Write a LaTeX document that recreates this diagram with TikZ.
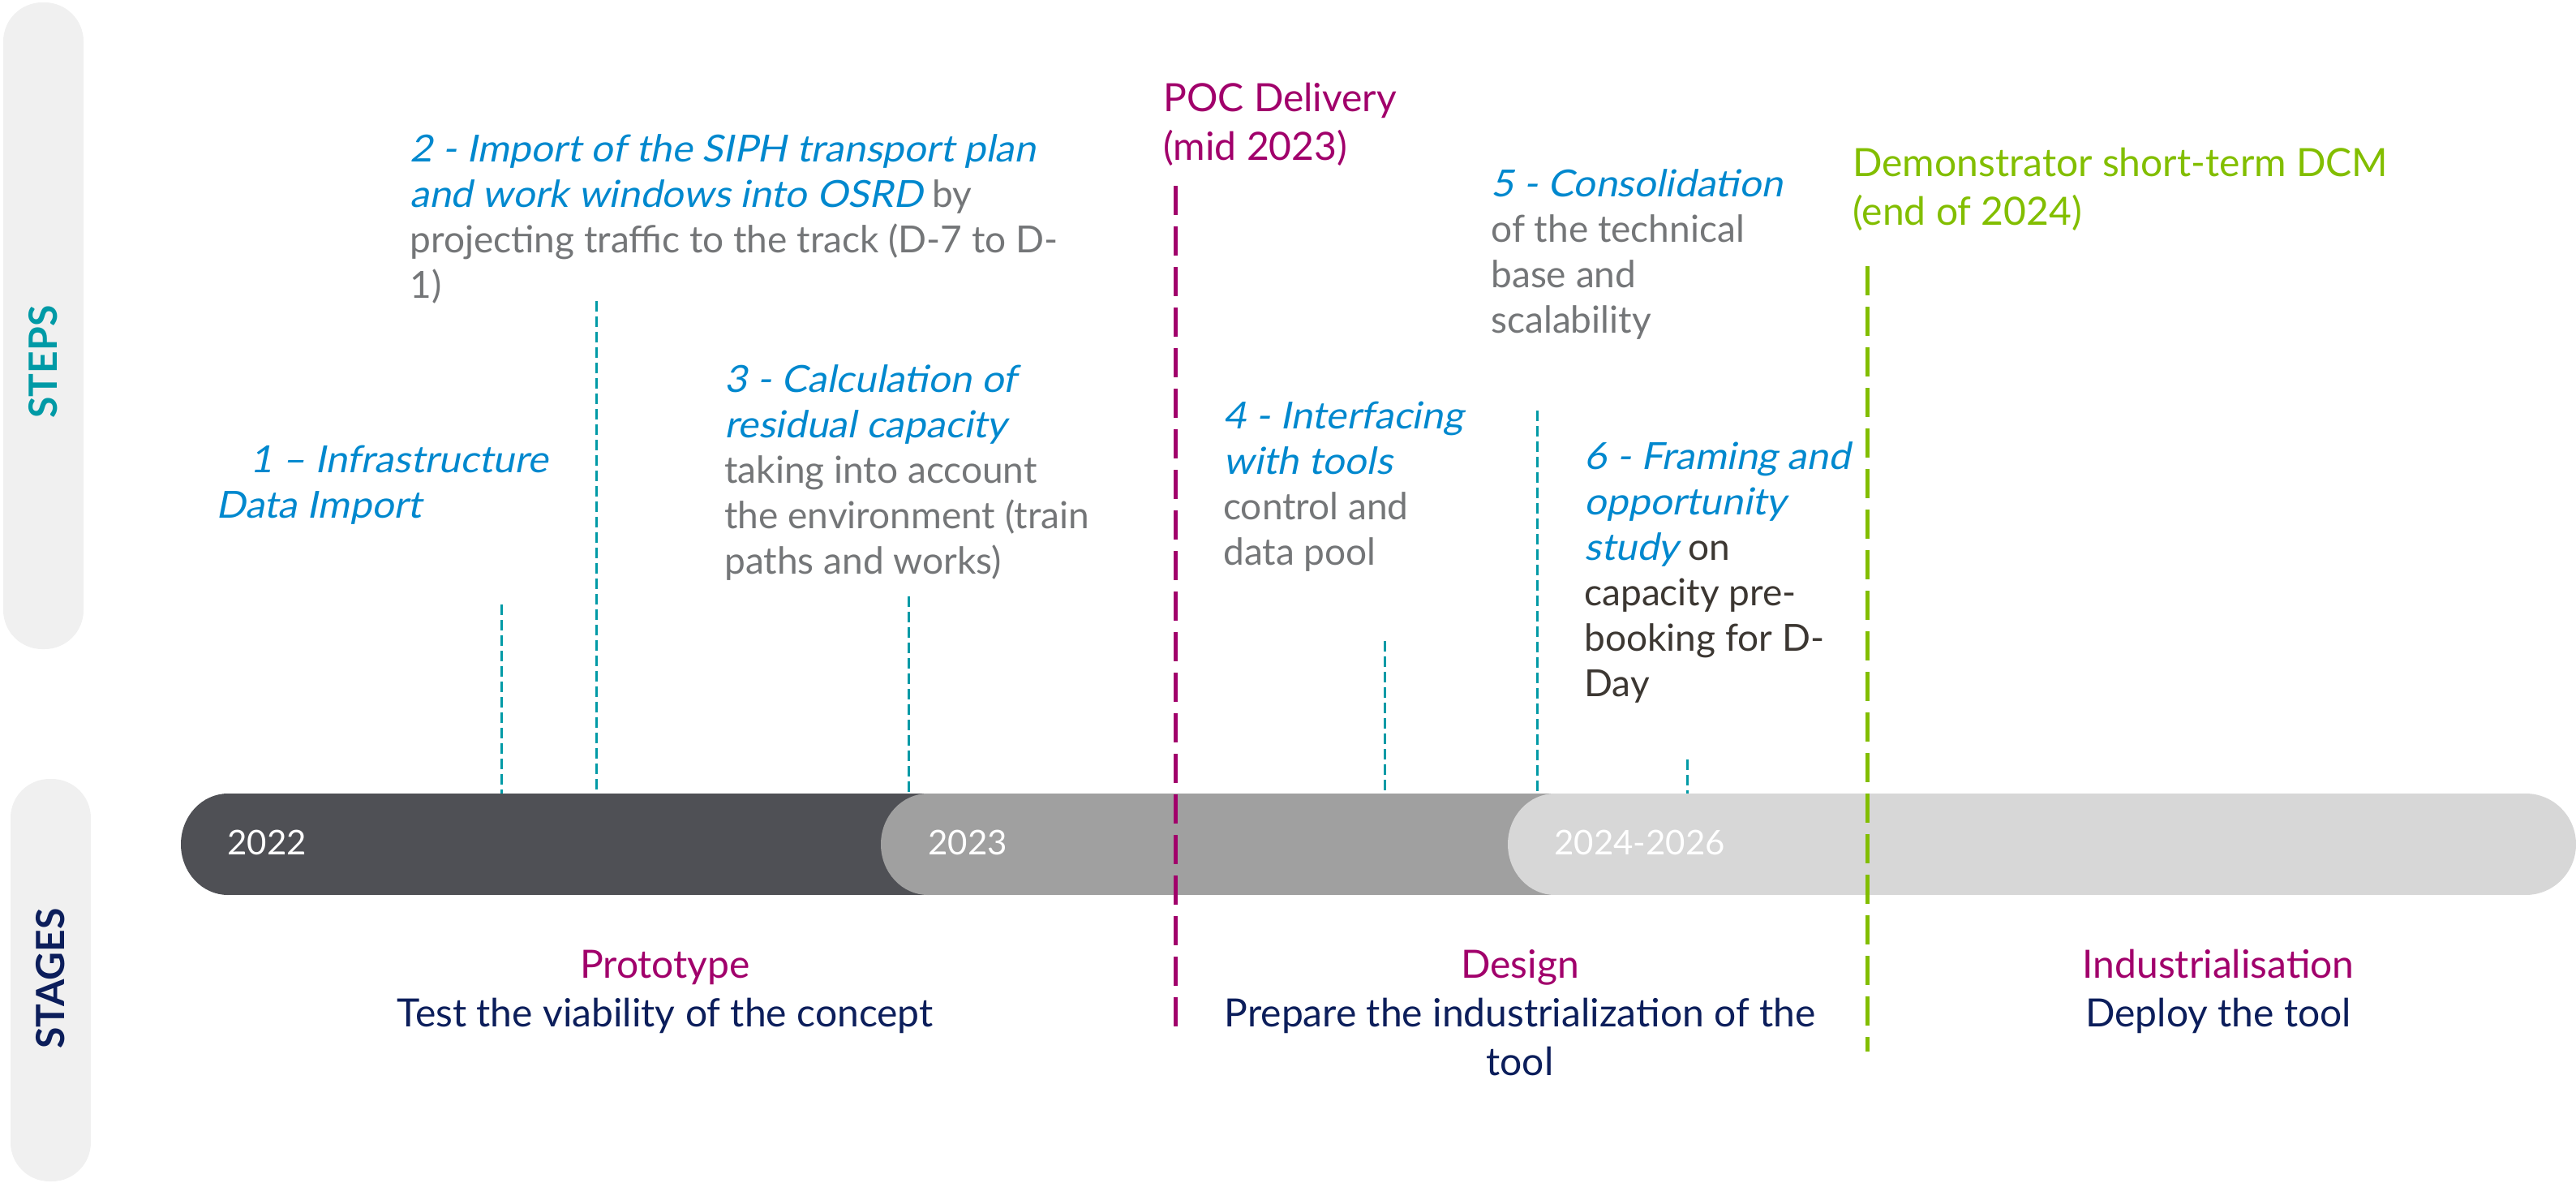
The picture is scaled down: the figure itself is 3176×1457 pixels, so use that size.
\documentclass[tikz,border=0pt]{standalone}
\usepackage{fontspec}
% oblique, slightly widened upright glyphs for the emphasised step titles
\setmainfont{Lato}[ItalicFont={Lato}, ItalicFeatures={FakeSlant=0.2, FakeStretch=1.04}]
\definecolor{stepblue}{HTML}{0088CE}
\definecolor{bodygray}{HTML}{747678}
\definecolor{bodydark}{HTML}{3C3732}
\definecolor{prunecol}{HTML}{A1006B}
\definecolor{limecol}{HTML}{82BE00}
\definecolor{navycol}{HTML}{0C1E5B}
\definecolor{markteal}{HTML}{009AA6}
\definecolor{pillgray}{HTML}{F0F0F0}
\definecolor{segdark}{HTML}{4F5055}
\definecolor{segmid}{HTML}{A0A0A0}
\definecolor{seglight}{HTML}{D7D7D7}
\newcommand\stepem[1]{{\itshape\color{stepblue}#1}}
\begin{document}
\begin{tikzpicture}[x=0.5pt,y=-0.5pt,
  pill/.style={fill=pillgray, rounded corners=24pt, minimum width=49.5pt, inner sep=0pt},
  sidelabel/.style={rotate=90, font=\bfseries\fontsize{24pt}{28pt}\selectfont, inner sep=0pt},
  stepblock/.style={anchor=north west, inner sep=0pt, align=left, text=bodygray,
    font=\fontsize{23pt}{28pt}\selectfont},
  milestone/.style={anchor=north west, inner sep=0pt, align=left,
    font=\fontsize{24pt}{30pt}\selectfont},
  stagelabel/.style={anchor=north, inner sep=0pt, align=center, text=navycol,
    font=\fontsize{24pt}{30pt}\selectfont},
  year/.style={anchor=base west, inner sep=0pt, text=white, font=\fontsize{21pt}{25pt}\selectfont},
  stepmark/.style={draw=markteal, line width=1.5pt, dash pattern=on 6.5pt off 3pt},
  pocmark/.style={draw=prunecol, line width=2.5pt, dash pattern=on 18pt off 7pt},
  demomark/.style={draw=limecol, line width=2.5pt, dash pattern=on 18pt off 7pt}]
\useasboundingbox (0,0) rectangle (3176,1457);

% side bands
\node[pill, minimum height=398.5pt] (stepspill) at (53.5,401.5) {};
\node[pill, minimum height=248pt] (stagespill) at (62.5,1208) {};
\node[sidelabel, text=markteal] (stepslabel) at (stepspill.center |- 0,446) {STEPS};
\node[sidelabel, text=navycol] (stageslabel) at (stagespill.center |- 0,1206) {STAGES};

% timeline bar, each period overlapping the previous one
\coordinate (bartop) at (0,978);
\fill[segdark] (281,1040.5) ellipse [x radius=58, y radius=62.5];
\fill[segdark] (281,978) rectangle (1200,1103);
\fill[segmid] (1144,1040.5) ellipse [x radius=58, y radius=62.5];
\fill[segmid] (1144,978) rectangle (1950,1103);
\fill[seglight] (1917,1040.5) ellipse [x radius=58, y radius=62.5];
\fill[seglight] (3114,1040.5) ellipse [x radius=62, y radius=62.5];
\fill[seglight] (1917,978) rectangle (3114,1103);
\node[year] (y22) at (280,1053) {2022};
\node[year] (y23) at (1144,1053) {2023};
\node[year] (y24) at (1916,1053) {2024-2026};

% steps
\node[stepblock] (s1) at (266,543) {\strut\hspace*{21pt}\stepem{1 – Infrastructure}\\\stepem{Data Import}};
\node[stepblock] (s2) at (505,160) {\strut\stepem{2 - Import of the SIPH transport plan}\\\stepem{and work windows into OSRD} by\\projecting traffic to the track (D-7 to D-\\1)};
\node[stepblock] (s3) at (893,444) {\strut\stepem{3 - Calculation of}\\\stepem{residual capacity}\\taking into account\\the environment (train\\paths and works)};
\node[stepblock] (s4) at (1508,489) {\strut\stepem{4 - Interfacing}\\\stepem{with tools}\\control and\\data pool};
\node[stepblock] (s5) at (1838,203) {\strut\stepem{5 - Consolidation}\\of the technical\\base and\\scalability};
\node[stepblock, text=bodydark] (s6) at (1953,539) {\strut\stepem{6 - Framing and}\\\stepem{opportunity}\\\stepem{study} on\\capacity pre-\\booking for D-\\Day};

% milestones
\node[milestone, text=prunecol] (poc) at (1434,95) {\strut POC Delivery\\(mid 2023)};
\node[milestone, text=limecol] (demo) at (2284,175) {\strut Demonstrator short-term DCM\\(end of 2024)};

% stages
\node[stagelabel] (proto) at (820,1163) {\strut{\color{prunecol}Prototype}\\Test the viability of the concept};
\node[stagelabel] (design) at (1874,1163) {\strut{\color{prunecol}Design}\\Prepare the industrialization of the\\tool};
\node[stagelabel] (indus) at (2735,1163) {\strut{\color{prunecol}Industrialisation}\\Deploy the tool};

% step markers down to the bar
\coordinate (m1) at (618,745);
\coordinate (m2) at (735,371);
\coordinate (m3) at (1120,735);
\coordinate (m4) at (1707,790);
\coordinate (m5) at (1895,506);
\coordinate (m6) at (2080,936);
\foreach \m in {m1,m2,m3,m4,m5,m6} \draw[stepmark] (\m) -- (\m |- bartop);

% milestone markers across the bar
\coordinate (pocend) at (1449,1276);
\coordinate (demoend) at (2302,1296);
\draw[pocmark] (pocend |- 0,229) -- (pocend);
\draw[demomark] (demoend |- 0,328) -- (demoend);
\end{tikzpicture}
\end{document}
